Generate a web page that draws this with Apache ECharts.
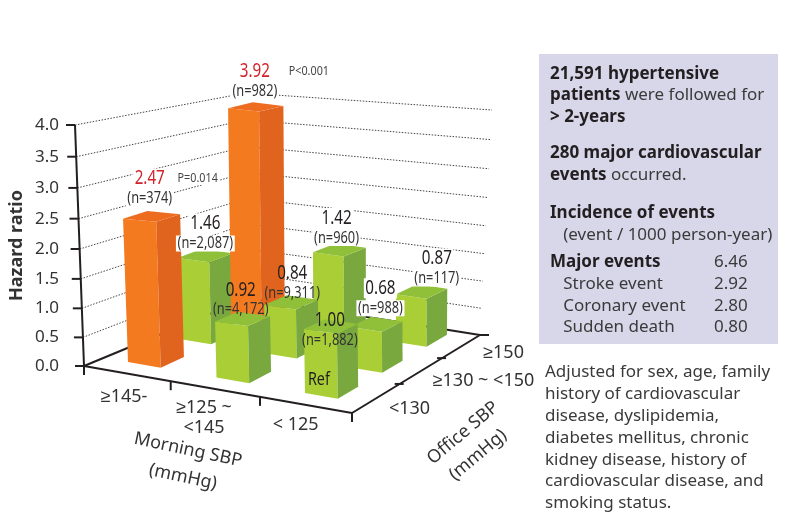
<!DOCTYPE html>
<html>
<head>
<meta charset="utf-8">
<title>Hazard ratio</title>
<style>
	html, body { margin: 0; padding: 0; background: #fff; }
	#chart { width: 787px; height: 528px; }
</style>
</head>
<body>
<div id="chart"></div>
<script src="https://cdn.jsdelivr.net/npm/echarts@6/dist/echarts.min.js"></script>
<script>
// data, in paint order
var morningCategories = [['≥145-'], ['≥125 ~', '<145'], ['< 125']];
var officeCategories = ['<130', '≥130 ~ <150', '≥150'];
var yTicks = [0, 0.5, 1, 1.5, 2, 2.5, 3, 3.5, 4];
var morningGroup = [0, 0, 1, 2, 1, 2, 0, 1, 2];
var officeGroup = [1, 2, 2, 2, 1, 1, 0, 0, 0];
var hazardRatios = [1.46, 3.92, 1.42, 0.87, 0.84, 0.68, 2.47, 0.92, 1.00];
var sampleSizes = ['n=2,087', 'n=982', 'n=960', 'n=117', 'n=9,311', 'n=988', 'n=374', 'n=4,172', 'n=1,882'];
var pValues = ['', 'P<0.001', '', '', '', '', 'P=0.014', '', ''];
var panelLines = [
	'{b|21,591 hypertensive}',
	'{b|patients} were followed for',
	'{b|> 2-years}',
	'{b|280 major cardiovascular}',
	'{b|events} occurred.',
	'{b|Incidence of events}',
	'   (event / 1000 person-year)'
];
var eventNames = ['{b|Major events}', '   Stroke event', '   Coronary event', '   Sudden death'];
var eventRates = ['6.46', '2.92', '2.80', '0.80'];
var noteLines = [
	'Adjusted for sex, age, family',
	'history of cardiovascular',
	'disease, dyslipidemia,',
	'diabetes mellitus, chronic',
	'kidney disease, history of',
	'cardiovascular disease, and',
	'smoking status.'
];

// layout
var floorQuad = [[84, 366], [352, 413], [480, 335], [248, 298]];
var topQuad = [[75, 125], [358, 143], [492, 110], [246, 93]];
// the bars sit on their own lattice, a little flatter than the frame
var barFloorQuad = [[128, 362], [305, 393], [396, 342], [231, 316]];
var barTopQuad = [[120, 130], [301, 137], [396, 122], [228, 104]];
var barW = 0.37, barD = 0.46;
var wallDepth = 1.06; // frame levels bunch up slightly toward the floor
var labelNudge = [[0, -12], [-1, -16], [-3, -12], [15, -13], [1, -9], [4, -16], [-2, -18], [-2, -9], [-1, 14]];
var pShift = [0, 54, 0, 0, 0, 0, 48, 0, 0];
var whiteLabel = [1, 1, 1, 1, 0, 1, 1, 0, 0];
var frontOffset = [[-3, 23], [-11, 19], [-10, 20]];
var sideOffset = [[33, 11], [62, 10], [42, 7]];
var plain = '"Noto Sans", sans-serif';
var ink = '#231f20';

// square to quad perspective map, for the frame
function makeMap(q) {
	var dx1 = q[1][0] - q[2][0], dx2 = q[3][0] - q[2][0], sx = q[0][0] - q[1][0] + q[2][0] - q[3][0];
	var dy1 = q[1][1] - q[2][1], dy2 = q[3][1] - q[2][1], sy = q[0][1] - q[1][1] + q[2][1] - q[3][1];
	var den = dx1 * dy2 - dx2 * dy1;
	var g = (sx * dy2 - dx2 * sy) / den, h = (dx1 * sy - sx * dy1) / den;
	var a = q[1][0] - q[0][0] + g * q[1][0], b = q[3][0] - q[0][0] + h * q[3][0];
	var d = q[1][1] - q[0][1] + g * q[1][1], e = q[3][1] - q[0][1] + h * q[3][1];
	return function(s, t) {
		var w = g * s + h * t + 1;
		return [(a * s + b * t + q[0][0]) / w, (d * s + e * t + q[0][1]) / w];
	};
}
var floorMap = makeMap(floorQuad);
var topMap = makeMap(topQuad);

function lerp(p0, p1, k) {
	return [p0[0] + (p1[0] - p0[0]) * k, p0[1] + (p1[1] - p0[1]) * k];
}
// plain bilinear for the bars
function quadPoint(q, s, t) {
	return lerp(lerp(q[0], q[1], s), lerp(q[3], q[2], s), t);
}
function project(s, t, k) {
	var f = k / (k + (1 - k) * wallDepth);
	return lerp(floorMap(s, t), topMap(s, t), f);
}
function projectBar(s, t, k) {
	return lerp(quadPoint(barFloorQuad, s, t), quadPoint(barTopQuad, s, t), k);
}

// value -> share of axis
function axisS(api, u) {
	var a = api.coord([0, 0])[0], b = api.coord([morningCategories.length - 1, 0])[0];
	return (api.coord([u, 0])[0] - a) / (b - a);
}
function axisK(api, v) {
	var a = api.coord([0, 0])[1], b = api.coord([0, 4])[1];
	return (api.coord([0, v])[1] - a) / (b - a);
}

function line(a, b, stroke, width, dash) {
	return {
		type: 'line',
		shape: { x1: a[0], y1: a[1], x2: b[0], y2: b[1] },
		style: { stroke: stroke, lineWidth: width, lineDash: dash || null }
	};
}
function text(str, x, y, size, fill, scale, extra) {
	var style = { text: str, fontSize: size, fontFamily: plain, fill: fill, align: 'center', verticalAlign: 'middle' };
	for(var key in extra) {
		style[key] = extra[key];
	}
	return { type: 'text', x: x, y: y, scaleX: scale, style: style };
}
function rotated(str, x, y, size, deg) {
	return {
		type: 'text',
		x: x,
		y: y,
		rotation: deg * Math.PI / 180,
		style: { text: str, fontSize: size, fontFamily: plain, fill: '#333', align: 'center', verticalAlign: 'middle' }
	};
}

// walls, floor and tilted axis
function renderFrame(params, api) {
	var children = [];
	var i, k;
	for(i = 1; i < yTicks.length; i++) {
		k = axisK(api, yTicks[i]);
		children.push(line(project(0, 0, k), project(0, 1, k), '#444', 1, [1.5, 1.5]));
		children.push(line(project(0, 1, k), project(1, 1, k), '#444', 1, [1.5, 1.5]));
	}
	children.push(line(project(0, 0, 0), project(0, 1, 0), ink, 2));
	children.push(line(project(0, 1, 0), project(1, 1, 0), ink, 2));
	children.push(line(project(0, 0, 0), project(0, 0, 1), ink, 2));
	children.push(line(project(0, 0, 0), project(1, 0, 0), ink, 2));
	children.push(line(project(1, 0, 0), project(1, 1, 0), ink, 2));
	for(i = 0; i < yTicks.length; i++) {
		var p = project(0, 0, axisK(api, yTicks[i]));
		children.push(line([p[0] - 9, p[1]], p, ink, 2));
		children.push(text(yTicks[i].toFixed(1), 59, p[1], 17, '#333', 1, { align: 'right' }));
	}
	for(i = 0; i <= morningCategories.length; i++) {
		var f = project(i / morningCategories.length, 0, 0);
		children.push(line(f, [f[0], f[1] + 9], ink, 2));
	}
	for(i = 1; i <= officeCategories.length; i++) {
		var o = project(1, i / officeCategories.length, 0);
		if(i < officeCategories.length) {
			children.push(line([o[0] - 5, o[1]], [o[0] + 4, o[1]], ink, 2));
		} else {
			children.push(line(o, [o[0] + 9, o[1]], ink, 2));
		}
	}
	return { type: 'group', children: children };
}

function renderBar(params, api) {
	var u = api.value(0), v = api.value(1);
	var s0 = axisS(api, u), s1 = axisS(api, u + barW);
	var t0 = v / 2, t1 = (v + barD) / 2;
	var k = axisK(api, api.value(2));
	var red = api.value(2) > 2;
	var a = projectBar(s0, t0, 0), b = projectBar(s1, t0, 0), c = projectBar(s1, t1, 0);
	var at = projectBar(s0, t0, k), bt = projectBar(s1, t0, k), ct = projectBar(s1, t1, k), dt = projectBar(s0, t1, k);
	return {
		type: 'group',
		children: [
			{ type: 'polygon', shape: { points: [a, b, bt, at] }, style: { fill: red ? '#f47a20' : '#aacf36' } },
			{ type: 'polygon', shape: { points: [b, c, ct, bt] }, style: { fill: red ? '#e1641e' : '#79a83e' } },
			{ type: 'polygon', shape: { points: [at, bt, ct, dt] }, style: { fill: red ? '#ee6c20' : '#90c03a' } }
		]
	};
}

function renderLabel(params, api) {
	var i = params.dataIndex;
	var hr = api.value(2);
	var c = projectBar(axisS(api, api.value(0) + barW / 2), (api.value(1) + barD / 2) / 2, axisK(api, hr));
	var x = c[0] + labelNudge[i][0], y = c[1] + labelNudge[i][1];
	var bg = whiteLabel[i] ? { backgroundColor: '#fff', padding: [0, 2] } : {};
	var children = [
		text('(' + sampleSizes[i] + ')', x, y, 16, '#333', 0.8, bg),
		text(hr.toFixed(2), x, y - 20, 20, hr > 2 ? '#d2232a' : ink, 0.76, bg)
	];
	if(pValues[i]) {
		children.push(text(pValues[i], x + pShift[i], y - 20, 13, '#444', 0.83, { backgroundColor: '#fff', padding: [0, 2] }));
	}
	if(hr === 1) {
		children.push(text('Ref', x - 11, y + 39, 18, ink, 0.8));
	}
	return { type: 'group', children: children };
}

// category and axis titles
function renderNames(params, api) {
	var children = [];
	var i, j;
	for(i = 0; i < morningCategories.length; i++) {
		var p = project((i + 0.5) / morningCategories.length, 0, 0);
		for(j = 0; j < morningCategories[i].length; j++) {
			children.push(text(morningCategories[i][j], p[0] + frontOffset[i][0], p[1] + frontOffset[i][1] + j * 20, 18, '#333', 1));
		}
	}
	for(i = 0; i < officeCategories.length; i++) {
		var o = project(1, (i + 0.5) / officeCategories.length, 0);
		children.push(text(officeCategories[i], o[0] + sideOffset[i][0], o[1] + sideOffset[i][1], 18, '#333', 1));
	}
	children.push(rotated('Morning SBP', 188, 450, 18, -12));
	children.push(rotated('(mmHg)', 183, 477, 18, -12));
	children.push(rotated('Office SBP', 463, 433, 18, 40));
	children.push(rotated('(mmHg)', 478, 455, 18, 40));
	return { type: 'group', children: children };
}

// right-hand panel
function panelGraphics() {
	var rich = { b: { fontWeight: 'bold', fontSize: 17, fontFamily: plain, fill: '#231f20' } };
	var lineY = [74, 95, 117, 153, 175, 213, 235];
	var eventY = [262, 284, 306, 327];
	var noteY = [372, 394, 416, 438, 460, 481, 503];
	var items = [{
		type: 'rect',
		shape: { x: 539, y: 54, width: 239, height: 290 },
		style: { fill: '#d8d7ea' }
	}];
	function addText(str, x, y) {
		items.push({
			type: 'text',
			x: x,
			y: y,
			style: { text: str, fontSize: 17, fontFamily: plain, fill: '#3a3a3a', verticalAlign: 'middle', rich: rich }
		});
	}
	var i;
	for(i = 0; i < panelLines.length; i++) {
		addText(panelLines[i], 550, lineY[i]);
	}
	for(i = 0; i < eventNames.length; i++) {
		addText(eventNames[i], 550, eventY[i]);
		addText(eventRates[i], 714, eventY[i]);
	}
	for(i = 0; i < noteLines.length; i++) {
		addText(noteLines[i], 545, noteY[i]);
	}
	return items;
}

var barData = [];
for(var i = 0; i < hazardRatios.length; i++) {
	barData.push([morningGroup[i], officeGroup[i], hazardRatios[i]]);
}

var chart = echarts.init(document.getElementById('chart'), null, { renderer: 'canvas' });
chart.setOption({
	animation: false,
	grid: { left: 65, top: 125, width: 400, height: 241 },
	xAxis: { type: 'value', min: 0, max: morningCategories.length - 1, show: false },
	yAxis: {
		type: 'value',
		min: 0,
		max: 4,
		interval: 0.5,
		name: 'Hazard ratio',
		nameLocation: 'middle',
		nameGap: 43,
		nameTextStyle: { fontSize: 18, fontWeight: 'bold', fontFamily: plain, color: '#333' },
		axisLine: { show: false },
		axisTick: { show: false },
		splitLine: { show: false },
		axisLabel: { show: false }
	},
	graphic: { elements: panelGraphics() },
	series: [
		{ type: 'custom', z: 1, silent: true, renderItem: renderFrame, data: [[0, 0]] },
		{ type: 'custom', z: 2, silent: true, renderItem: renderBar, data: barData },
		{ type: 'custom', z: 3, silent: true, renderItem: renderLabel, data: barData },
		{ type: 'custom', z: 3, silent: true, renderItem: renderNames, data: [[0, 0]] }
	]
});
</script>
</body>
</html>
